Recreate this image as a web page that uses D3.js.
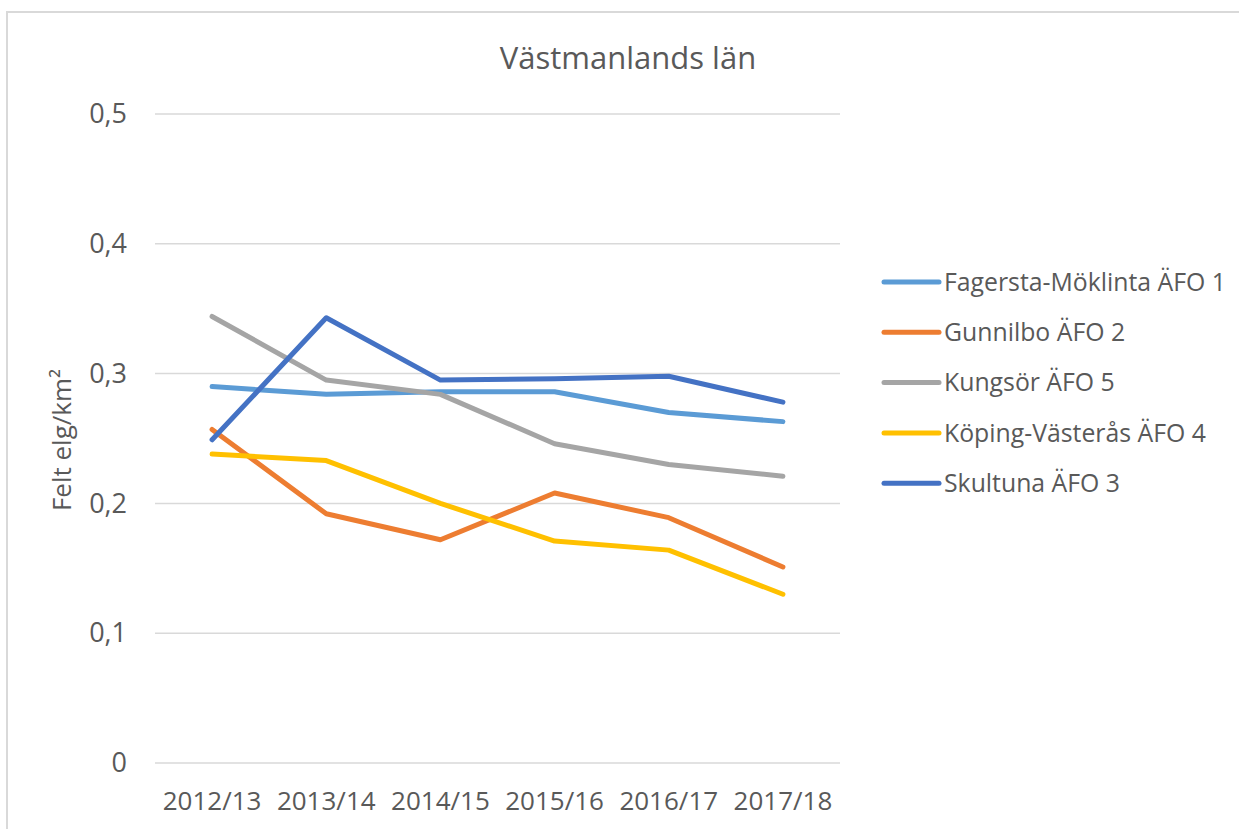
<!DOCTYPE html>
<html lang="sv">
<head>
<meta charset="utf-8">
<style>
  body { margin: 0; background: #fff; }
  svg text { font-family: "Open Sans", "Noto Sans", sans-serif; fill: #595959; }
</style>
</head>
<body>
<svg id="chart" width="1239" height="829"></svg>
<script src="https://cdn.jsdelivr.net/npm/d3@7/dist/d3.min.js"></script>
<script>
    // data
    var seasons = ["2012/13", "2013/14", "2014/15", "2015/16", "2016/17", "2017/18"];
    var fagersta = [0.290, 0.284, 0.286, 0.286, 0.270, 0.263];
    var gunnilbo = [0.257, 0.192, 0.172, 0.208, 0.189, 0.151];
    var kungsor = [0.344, 0.295, 0.284, 0.246, 0.230, 0.221];
    var koping = [0.238, 0.233, 0.200, 0.171, 0.164, 0.130];
    var skultuna = [0.249, 0.343, 0.295, 0.296, 0.298, 0.278];
    var yTicks = [0, 0.1, 0.2, 0.3, 0.4, 0.5];

    var series = [
        {name: "Fagersta-Möklinta ÄFO 1", values: fagersta, color: "#5B9BD5"},
        {name: "Gunnilbo ÄFO 2", values: gunnilbo, color: "#ED7D31"},
        {name: "Kungsör ÄFO 5", values: kungsor, color: "#A5A5A5"},
        {name: "Köping-Västerås ÄFO 4", values: koping, color: "#FFC000"},
        {name: "Skultuna ÄFO 3", values: skultuna, color: "#4472C4"}
    ];

    var svg = d3.select("#chart");

    // chart frame
    svg.append("rect")
        .attr("x", 7).attr("y", 12)
        .attr("width", 1250).attr("height", 840)
        .attr("fill", "none")
        .attr("stroke", "#d9d9d9")
        .attr("stroke-width", 2);

    var plotLeft = 155, plotRight = 840, plotTop = 114, plotBottom = 763;

    var x = d3.scaleBand().domain(seasons).range([plotLeft, plotRight]);
    var y = d3.scaleLinear().domain([0, 0.5]).range([plotBottom, plotTop]);

    // gridlines
    svg.append("g")
        .selectAll("line")
        .data(yTicks)
        .enter()
        .append("line")
        .attr("x1", plotLeft).attr("x2", plotRight)
        .attr("y1", function (d) { return y(d); })
        .attr("y2", function (d) { return y(d); })
        .attr("stroke", "#d9d9d9")
        .attr("stroke-width", 1.5);

    // y axis labels
    var fmt = function (d) { return d === 0 ? "0" : d3.format(".1f")(d).replace(".", ","); };
    var yAxis = svg.append("g")
        .attr("transform", "translate(" + (plotLeft - 28) + ",0)")
        .call(d3.axisLeft(y).tickValues(yTicks).tickSize(0).tickPadding(0).tickFormat(fmt));
    yAxis.select(".domain").remove();
    yAxis.selectAll("text")
        .attr("font-size", "27px")
        .attr("fill", "#595959")
        .style("font-family", "'Open Sans', sans-serif");

    // x axis labels
    var xAxis = svg.append("g")
        .attr("transform", "translate(0," + plotBottom + ")")
        .call(d3.axisBottom(x).tickSize(0).tickPadding(29));
    xAxis.select(".domain").remove();
    xAxis.selectAll("text")
        .attr("font-size", "26px")
        .attr("fill", "#595959")
        .style("font-family", "'Open Sans', sans-serif");

    // lines
    var line = d3.line()
        .x(function (d, i) { return x(seasons[i]) + x.bandwidth() / 2; })
        .y(function (d) { return y(d); });

    svg.append("g")
        .selectAll("path")
        .data(series)
        .enter()
        .append("path")
        .attr("d", function (d) { return line(d.values); })
        .attr("fill", "none")
        .attr("stroke", function (d) { return d.color; })
        .attr("stroke-width", 5)
        .attr("stroke-linecap", "round")
        .attr("stroke-linejoin", "round");

    // title
    svg.append("text")
        .attr("x", 628).attr("y", 69)
        .attr("text-anchor", "middle")
        .attr("font-size", "31px")
        .text("Västmanlands län");

    // y axis title
    svg.append("text")
        .attr("transform", "translate(71,440) rotate(-90)")
        .attr("text-anchor", "middle")
        .attr("font-size", "26px")
        .text("Felt elg/km²");

    // legend
    var legend = svg.append("g")
        .selectAll("g")
        .data(series)
        .enter()
        .append("g")
        .attr("transform", function (d, i) { return "translate(884," + (282 + i * 50.3) + ")"; });
    legend.append("line")
        .attr("x1", 0).attr("x2", 55)
        .attr("stroke", function (d) { return d.color; })
        .attr("stroke-width", 5)
        .attr("stroke-linecap", "round");
    legend.append("text")
        .attr("x", 60)
        .attr("dy", "0.35em")
        .attr("font-size", "24.8px")
        .text(function (d) { return d.name; });
</script>
</body>
</html>
